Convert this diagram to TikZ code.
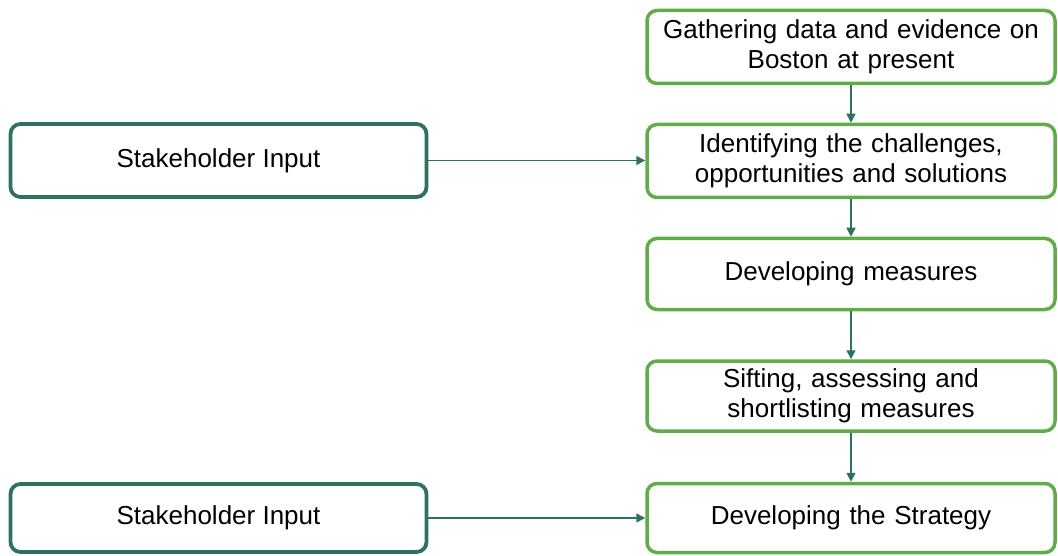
\documentclass[tikz,border=0pt]{standalone}
\usepackage{fontspec}
\setmainfont{Liberation Sans}
\usetikzlibrary{arrows.meta}
\definecolor{leafgreen}{RGB}{96,172,72}
\definecolor{deepteal}{RGB}{46,112,100}
\tikzset{
  stepbox/.style={draw=leafgreen, line width=3.5pt, rounded corners=10pt, fill=white,
    minimum width=408pt, text width=400pt, align=center, inner sep=0pt},
  inputbox/.style={draw=deepteal, line width=3.8pt, rounded corners=10pt, fill=white,
    minimum width=416pt, align=center, inner sep=0pt},
  flow/.style={deepteal, line width=1.6pt, -{Triangle[length=9pt,width=9pt]}}
}
\begin{document}
\begin{tikzpicture}[x=1pt, y=-1pt, font=\fontsize{26}{30}\selectfont]
  \useasboundingbox (0,0) rectangle (1058,556);

  % Process steps
  \node [stepbox, minimum height=73pt] (gather) at (851,47) {Gathering data and evidence on\\Boston at present};
  \node [stepbox, minimum height=73pt] (identify) at (851,161) {Identifying the challenges,\\opportunities and solutions};
  \node [stepbox, minimum height=71pt] (develop) at (851,274) {Developing measures};
  \node [stepbox, minimum height=70pt] (sift) at (851,396) {Sifting, assessing and\\shortlisting measures};
  \node [stepbox, minimum height=69pt] (strategy) at (851,518) {Developing the Strategy};

  % Stakeholder inputs
  \node [inputbox, minimum height=73pt] (input1) at (218.5,160.5) {Stakeholder Input};
  \node [inputbox, minimum height=68pt] (input2) at (218.5,518) {Stakeholder Input};

  % Arrows
  \draw [flow] (gather) -- (identify);
  \draw [flow] (identify) -- (develop);
  \draw [flow] (develop) -- (sift);
  \draw [flow] (sift) -- (strategy);
  \draw [flow] (input1.east) -- (input1.east -| identify.west);
  \draw [flow] (input2.east) -- (input2.east -| strategy.west);
\end{tikzpicture}
\end{document}
